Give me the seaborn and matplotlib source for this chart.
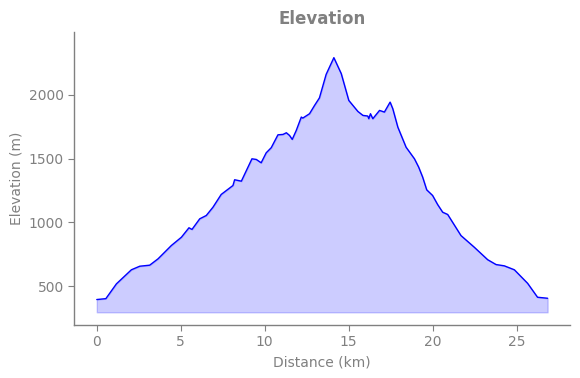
import matplotlib
matplotlib.use("Agg")
import matplotlib.pyplot as plt
import seaborn as sns
import pandas as pd

distance_km = [0, 0.54, 1.17, 2.06, 2.56, 3.15, 3.65, 4.44, 5.04, 5.49, 5.67, 6.13, 6.52,
               6.92, 7.41, 8.11, 8.21, 8.61, 9.24, 9.50, 9.79, 10.09, 10.39, 10.79, 11.09,
               11.29, 11.48, 11.64, 11.88, 12.18, 12.27, 12.67, 12.97, 13.26, 13.66, 14.12,
               14.56, 15.01, 15.55, 15.85, 16.14, 16.20, 16.30, 16.44, 16.84, 17.13, 17.47,
               17.63, 17.93, 18.42, 18.92, 19.17, 19.41, 19.65, 20.0, 20.3, 20.6, 20.9,
               21.69, 22.48, 23.28, 23.78, 24.27, 24.87, 25.66, 26.25, 26.85]
elevation_m = [396, 403, 519, 629, 657, 665, 715, 819, 884, 958, 945, 1028, 1054,
               1119, 1219, 1289, 1334, 1323, 1498, 1493, 1467, 1545, 1585, 1686, 1689,
               1702, 1681, 1650, 1720, 1825, 1817, 1851, 1916, 1975, 2159, 2290,
               2165, 1955, 1869, 1838, 1833, 1812, 1851, 1812, 1877, 1864, 1942,
               1890, 1746, 1589, 1498, 1433, 1354, 1255, 1211, 1140, 1080, 1062,
               897, 806, 708, 670, 660, 629, 523, 414, 406]

df = pd.DataFrame({"Distance (km)": distance_km, "Elevation (m)": elevation_m})

sns.set_style("white")
GREY = "#808080"
fig, ax = plt.subplots(figsize=(5.8, 3.78), dpi=100)
fig.subplots_adjust(left=0.128, right=0.983, top=0.915, bottom=0.14)

emin, emax = min(elevation_m), max(elevation_m)
ax.fill_between(df["Distance (km)"], df["Elevation (m)"], emin - 100, color="blue", alpha=0.2)
sns.lineplot(data=df, x="Distance (km)", y="Elevation (m)", color="blue", linewidth=1, ax=ax)
ax.set_ylim(emin - 200, emax + 200)
ax.set_yticks([500, 1000, 1500, 2000])
ax.set_xticks([0, 5, 10, 15, 20, 25])

ax.set_title("Elevation", color=GREY, fontweight="bold", fontsize=12)
ax.set_xlabel("Distance (km)", color=GREY, fontsize=10)
ax.set_ylabel("Elevation (m)", color=GREY, fontsize=10)
ax.tick_params(axis="both", colors=GREY, labelsize=10, length=4, width=0.8, left=True, bottom=True)
sns.despine(ax=ax)
for s in ["left", "bottom"]:
    ax.spines[s].set_color(GREY)
    ax.spines[s].set_linewidth(1)

fig.savefig("out.png", dpi=100)
